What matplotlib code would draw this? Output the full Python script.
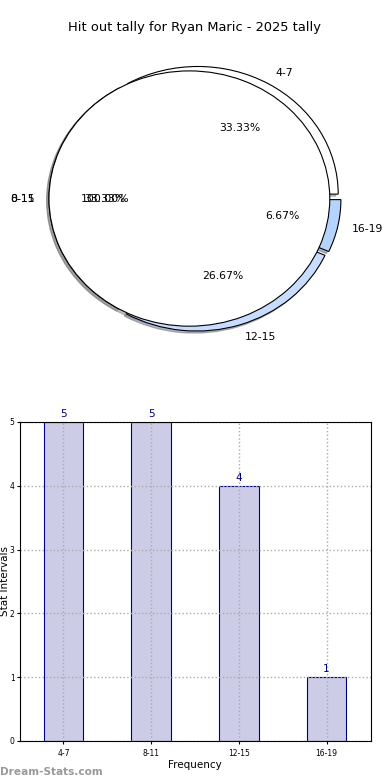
import matplotlib
matplotlib.use("Agg")
import matplotlib.pyplot as plt

intervals = ["4-7", "8-11", "12-15", "16-19"]
counts = [5, 5, 4, 1]
pie_colors = ["#ffffff", "#ffffff", "#c8dcff", "#b5d3ff"]
overlay_label = ["0-15"]
overlay_value = [15]

fig, (ax1, ax2) = plt.subplots(2, 1, figsize=(3.9, 7.8), dpi=100)
fig.subplots_adjust(left=0.05, right=0.95, top=0.95, bottom=0.05, hspace=0.2)

# pie (drawn twice, the second one covers the first like in the original)
wp = dict(edgecolor="black", linewidth=0.8)
shadow = dict(ox=-0.012, oy=-0.012, shade=0.5)
ax1.pie(counts, labels=intervals, colors=pie_colors, explode=[0.04] * len(counts),
        autopct="%.2f%%", startangle=0, shadow=shadow, wedgeprops=wp,
        textprops=dict(fontsize=7.8))
ax1.pie(overlay_value, labels=overlay_label, colors=["white"], explode=[0.04],
        autopct="%.2f%%", startangle=0, shadow=shadow, wedgeprops=wp,
        textprops=dict(fontsize=7.8))
ax1.set_aspect("auto")
ax1.set_xlim(-1.25, 1.25)
ax1.set_ylim(-1.25, 1.25)
ax1.set_title("Hit out tally for Ryan Maric - 2025 tally", fontsize=9.4)

# bars
x = range(len(intervals))
bars = ax2.bar(x, counts, width=0.45, color="#ccccE6", edgecolor="#000080", linewidth=0.8)
ax2.bar_label(bars, padding=2, color="#000080", fontsize=7.5)
ax2.set_xticks(list(x), intervals, fontsize=5.5)
ax2.set_yticks(range(0, 6))
ax2.tick_params(axis="y", labelsize=5.5, length=2, pad=1.5)
ax2.tick_params(axis="x", length=2)
ax2.set_xlim(-0.5, 3.5)
ax2.set_ylim(0, 5)
ax2.grid(True, linestyle=":", color="#aaaaaa", linewidth=1)
ax2.set_axisbelow(False)
for sp in ax2.spines.values():
    sp.set_zorder(3)
ax2.set_xlabel("Frequency", fontsize=7.5, labelpad=2)
ax2.set_ylabel("Stat Intervals", fontsize=7.5, labelpad=0)

fig.text(0.0, 0.006, "Dream-Stats.com", color="#999999", fontweight="bold", fontsize=7.6)

fig.savefig("out.png", dpi=100)
